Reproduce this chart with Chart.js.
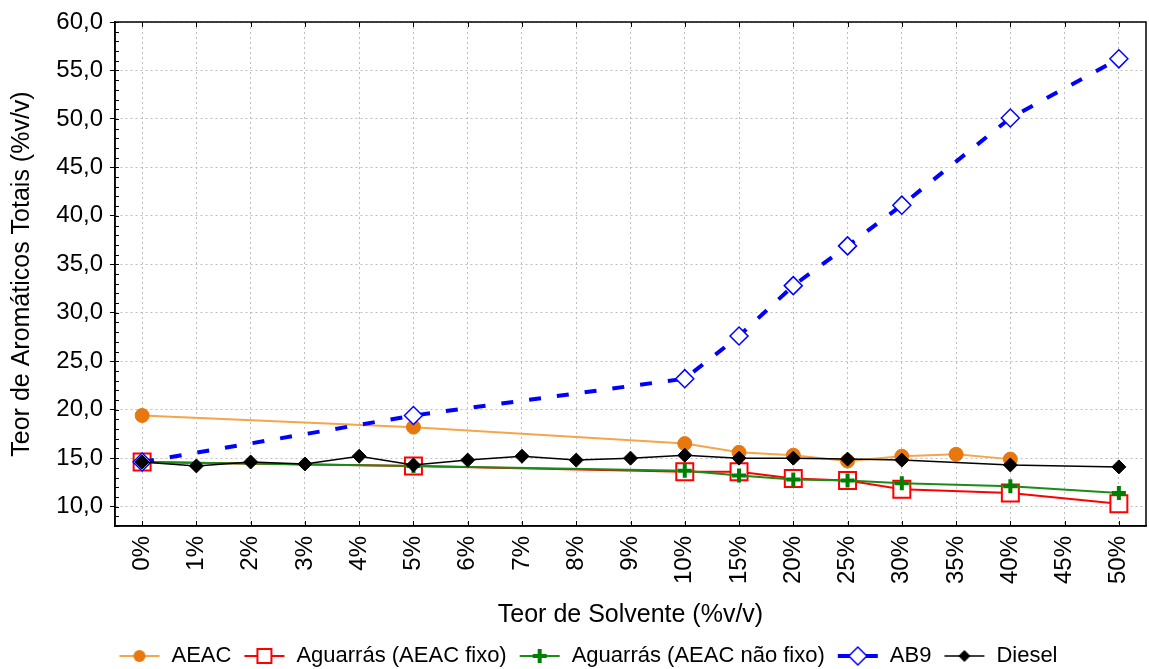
<!DOCTYPE html>
<html>
<head>
<meta charset="utf-8">
<title>Teor de Aromáticos Totais</title>
<script src="https://cdn.jsdelivr.net/npm/chart.js@4.4.1/dist/chart.umd.min.js"></script>
<style>
  html, body { margin: 0; padding: 0; background: #fff; }
  #wrap { width: 1149px; height: 669px; }
</style>
</head>
<body>
<div id="wrap"><canvas id="chart" width="1149" height="669"></canvas></div>
<script>
// Solvent content categories (x axis)
const categories = ['0%','1%','2%','3%','4%','5%','6%','7%','8%','9%','10%',
                    '15%','20%','25%','30%','35%','40%','45%','50%'];

// Total aromatics content (%v/v) per series; null = not measured
const aeac          = [19.4, null, null, null, null, 18.2, null, null, null, null, 16.5, 15.6, 15.3, 14.7, 15.2, 15.4, 14.9, null, null];
const aguarrasFixo  = [14.6, null, null, null, null, 14.2, null, null, null, null, 13.6, 13.6, 12.9, 12.7, 11.8, null, 11.4, null, 10.3];
const aguarrasLivre = [14.6, null, null, null, null, 14.2, null, null, null, null, 13.7, 13.2, 12.8, 12.7, 12.4, null, 12.1, null, 11.4];
const ab9           = [14.6, null, null, null, null, 19.4, null, null, null, null, 23.2, 27.6, 32.8, 36.9, 41.1, null, 50.1, null, 56.2];
const diesel        = [14.6, 14.2, 14.6, 14.4, 15.2, 14.3, 14.8, 15.2, 14.8, 15.0, 15.3, 15.0, 15.0, 14.9, 14.8, null, 14.3, null, 14.1];

// Value axis range and labelled step
const yMin = 8, yMax = 60, yLabelStep = 5;

const FAMILY = "'Liberation Sans', Arial, sans-serif";
const TICK_FONT = { family: FAMILY, size: 24 };
const TITLE_FONT = { family: FAMILY, size: 25 };
const LEGEND_FONT = { family: FAMILY, size: 22 };
Chart.defaults.font.family = FAMILY;
Chart.defaults.color = '#000';

// Small line+marker swatches for the legend
function legendIcon(drawMarker, lineColor, lineWidth) {
  const c = document.createElement('canvas');
  c.width = 50; c.height = 24;
  const g = c.getContext('2d');
  g.strokeStyle = lineColor; g.lineWidth = lineWidth;
  g.beginPath(); g.moveTo(9, 12); g.lineTo(49, 12); g.stroke();
  drawMarker(g, 29, 12);
  return c;
}
const icons = [
  legendIcon((g, x, y) => { g.fillStyle = '#E8780E'; g.beginPath(); g.arc(x, y, 6, 0, Math.PI * 2); g.fill(); }, '#F5A54A', 2),
  legendIcon((g, x, y) => { g.fillStyle = '#fff'; g.fillRect(x - 7, y - 7, 14, 14); g.strokeStyle = '#FF0000'; g.lineWidth = 2; g.strokeRect(x - 7, y - 7, 14, 14); }, '#FF0000', 2),
  legendIcon((g, x, y) => { g.strokeStyle = '#008000'; g.lineWidth = 4; g.beginPath(); g.moveTo(x - 7, y); g.lineTo(x + 7, y); g.moveTo(x, y - 7); g.lineTo(x, y + 7); g.stroke(); }, '#1A8C1A', 2),
  legendIcon((g, x, y) => { g.fillStyle = '#fff'; g.strokeStyle = '#0000FF'; g.lineWidth = 1.5; g.beginPath(); g.moveTo(x - 9, y); g.lineTo(x, y - 9); g.lineTo(x + 9, y); g.lineTo(x, y + 9); g.closePath(); g.fill(); g.stroke(); }, '#0000FF', 4),
  legendIcon((g, x, y) => { g.fillStyle = '#000'; g.beginPath(); g.moveTo(x - 6, y); g.lineTo(x, y - 6); g.lineTo(x + 6, y); g.lineTo(x, y + 6); g.closePath(); g.fill(); }, '#000', 1.5)
];

// Plot frame plus short inward tick marks on all four sides
const frameTicks = {
  id: 'frameTicks',
  beforeDatasetsDraw(chart) {
    const { ctx, chartArea: a, scales: { x, y } } = chart;
    ctx.save();
    ctx.strokeStyle = '#000';
    ctx.lineWidth = 1;
    ctx.beginPath();
    for (let v = yMin; v <= yMax; v++) {
      const py = Math.round(y.getPixelForValue(v)) + 0.5;
      ctx.moveTo(a.left, py); ctx.lineTo(a.left + 4, py);
    }
    categories.forEach((c, i) => {
      const px = Math.round(x.getPixelForValue(i)) + 0.5;
      ctx.moveTo(px, a.bottom); ctx.lineTo(px, a.bottom - 5);
      ctx.moveTo(px, a.top); ctx.lineTo(px, a.top + 5);
    });
    ctx.stroke();
    ctx.lineWidth = 1.5;
    ctx.strokeRect(a.left, a.top, a.right - a.left, a.bottom - a.top);
    ctx.restore();
  }
};

new Chart(document.getElementById('chart'), {
  type: 'line',
  data: {
    labels: categories,
    datasets: [
      { label: 'AEAC', data: aeac, order: 5, spanGaps: true,
        borderColor: '#F5A54A', borderWidth: 2,
        pointStyle: 'circle', pointRadius: 7, pointBackgroundColor: '#E8780E', pointBorderColor: '#E8780E', pointBorderWidth: 1 },
      { label: 'Aguarrás (AEAC fixo)', data: aguarrasFixo, order: 4, spanGaps: true,
        borderColor: '#FF0000', borderWidth: 2,
        pointStyle: 'rect', pointRadius: 12, pointBackgroundColor: '#FFFFFF', pointBorderColor: '#FF0000', pointBorderWidth: 2 },
      { label: 'Aguarrás (AEAC não fixo)', data: aguarrasLivre, order: 3, spanGaps: true,
        borderColor: '#1A8C1A', borderWidth: 2,
        pointStyle: 'cross', pointRadius: 7, pointBorderColor: '#008000', pointBorderWidth: 4 },
      { label: 'AB9', data: ab9, order: 2, spanGaps: true,
        borderColor: '#0000FF', borderWidth: 4, borderDash: [12, 16],
        pointStyle: 'rectRot', pointRadius: 9, pointBackgroundColor: '#FFFFFF', pointBorderColor: '#0000FF', pointBorderWidth: 1.5 },
      { label: 'Diesel', data: diesel, order: 1, spanGaps: true,
        borderColor: '#000000', borderWidth: 1.5,
        pointStyle: 'rectRot', pointRadius: 7, pointBackgroundColor: '#000000', pointBorderColor: '#000000', pointBorderWidth: 1 }
    ]
  },
  options: {
    responsive: false,
    animation: false,
    events: [],
    layout: { autoPadding: false, padding: { top: 22, right: 3, bottom: -8, left: 22 } },
    plugins: {
      tooltip: { enabled: false },
      legend: {
        position: 'bottom',
        labels: {
          font: LEGEND_FONT, color: '#000', padding: 4,
          usePointStyle: true, pointStyleWidth: 50,
          generateLabels: chart => chart.data.datasets.map((ds, i) => ({
            text: ds.label, datasetIndex: i, pointStyle: icons[i],
            fillStyle: 'rgba(0,0,0,0)', strokeStyle: 'rgba(0,0,0,0)', lineWidth: 0, hidden: false, fontColor: '#000'
          }))
        }
      }
    },
    scales: {
      x: {
        type: 'category',
        offset: true,
        afterFit: s => { s.height = 115; s.paddingLeft = 0; s.paddingRight = 0; },
        ticks: { font: TICK_FONT, color: '#000', minRotation: 90, maxRotation: 90, autoSkip: false, padding: 10 },
        grid: { offset: false, color: '#BEBEBE', lineWidth: 1, drawTicks: false },
        border: { color: '#000', width: 1.5, dash: [2, 3] },
        title: { display: true, text: 'Teor de Solvente (%v/v)', font: TITLE_FONT, color: '#000', padding: { top: 4, bottom: 11 } }
      },
      y: {
        min: yMin, max: yMax,
        afterFit: s => { s.width = 93; },
        ticks: {
          font: TICK_FONT, color: '#000', stepSize: 1, autoSkip: false, padding: 7,
          callback: v => (v % yLabelStep === 0) ? v.toFixed(1).replace('.', ',') : ''
        },
        grid: {
          lineWidth: 1, tickLength: 5,
          color: c => (c.tick && c.tick.value % yLabelStep === 0) ? '#BEBEBE' : 'rgba(0,0,0,0)',
          tickColor: c => (c.tick && c.tick.value % yLabelStep === 0) ? '#000' : 'rgba(0,0,0,0)'
        },
        border: { color: '#000', width: 1.5, dash: [2, 3] },
        title: { display: true, text: 'Teor de Aromáticos Totais (%v/v)', font: TITLE_FONT, color: '#000', padding: { top: -15, bottom: 0 } }
      }
    }
  },
  plugins: [frameTicks]
});
</script>
</body>
</html>
